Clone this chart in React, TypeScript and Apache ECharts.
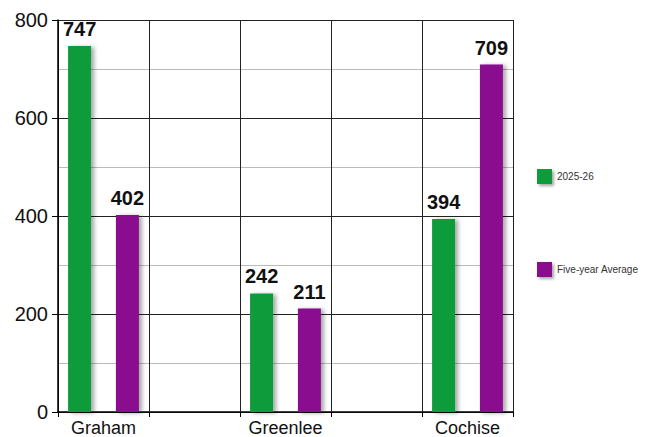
import React, { useEffect, useRef } from "react";
import * as echarts from "echarts";

const categories = ["Graham", "", "Greenlee", "", "Cochise"];
const seriesNames = ["2025-26", "Five-year Average"];
const current = [747, null, 242, null, 394];
const fiveYearAvg = [402, null, 211, null, 709];
const yTicks = { min: 0, max: 800, interval: 200 };

const GREEN = "#109b3a";
const PURPLE = "#8b0a8f";
const FONT = "Liberation Sans, Arial, sans-serif";

export default function App() {
  const ref = useRef<HTMLDivElement>(null);
  useEffect(() => {
    if (!ref.current) return;
    const chart = echarts.init(ref.current, null, { renderer: "svg" });
    const barStyle = (color: string) => ({
      color,
      shadowColor: "rgba(0,0,0,0.35)",
      shadowBlur: 4,
      shadowOffsetX: 3,
      shadowOffsetY: 1,
    });
    const label = {
      show: true,
      position: "top" as const,
      distance: 7,
      fontFamily: FONT,
      fontWeight: "bold" as const,
      fontSize: 20,
      color: "#111",
    };
    chart.setOption({
      animation: false,
      backgroundColor: "#fff",
      grid: { left: 58, right: 159, top: 20, bottom: 22, containLabel: false },
      legend: {
        orient: "vertical",
        left: 532,
        top: 164,
        padding: 5,
        itemWidth: 15,
        itemHeight: 15,
        itemGap: 78,
        icon: "rect",
        textStyle: { fontFamily: FONT, fontSize: 10, color: "#333" },
        data: seriesNames.map((n, i) => ({
          name: n,
          itemStyle: {
            color: i === 0 ? GREEN : PURPLE,
            shadowColor: "rgba(0,0,0,0.35)",
            shadowBlur: 3,
            shadowOffsetX: 2,
            shadowOffsetY: 2,
          },
        })),
      },
      xAxis: {
        type: "category",
        data: categories,
        boundaryGap: true,
        axisLine: { show: true, lineStyle: { color: "#000", width: 1.5 } },
        axisTick: { show: true, length: 5, lineStyle: { color: "#000" } },
        axisLabel: {
          interval: 0,
          margin: 7,
          fontFamily: FONT,
          fontSize: 18,
          color: "#111",
        },
        splitLine: { show: true, lineStyle: { color: "#222", width: 1 } },
      },
      yAxis: {
        type: "value",
        min: yTicks.min,
        max: yTicks.max,
        interval: yTicks.interval,
        axisLine: { show: true, lineStyle: { color: "#000", width: 1.5 } },
        axisTick: { show: true, length: 6, lineStyle: { color: "#000" } },
        axisLabel: { margin: 10, fontFamily: FONT, fontSize: 20, color: "#111" },
        splitLine: { show: true, lineStyle: { color: "#222", width: 1 } },
        minorTick: { show: false, splitNumber: 2 },
        minorSplitLine: { show: true, lineStyle: { color: "#bbb", width: 1 } },
      },
      series: [
        {
          name: seriesNames[0],
          type: "bar",
          data: current,
          barWidth: 23,
          barGap: "108%",
          itemStyle: barStyle(GREEN),
          label,
        },
        {
          name: seriesNames[1],
          type: "bar",
          data: fiveYearAvg,
          barWidth: 23,
          itemStyle: barStyle(PURPLE),
          label,
        },
      ],
    });
    return () => chart.dispose();
  }, []);
  return (
    <div
      ref={ref}
      style={{ position: "fixed", left: 0, top: 0, width: 672, height: 437 }}
    />
  );
}
